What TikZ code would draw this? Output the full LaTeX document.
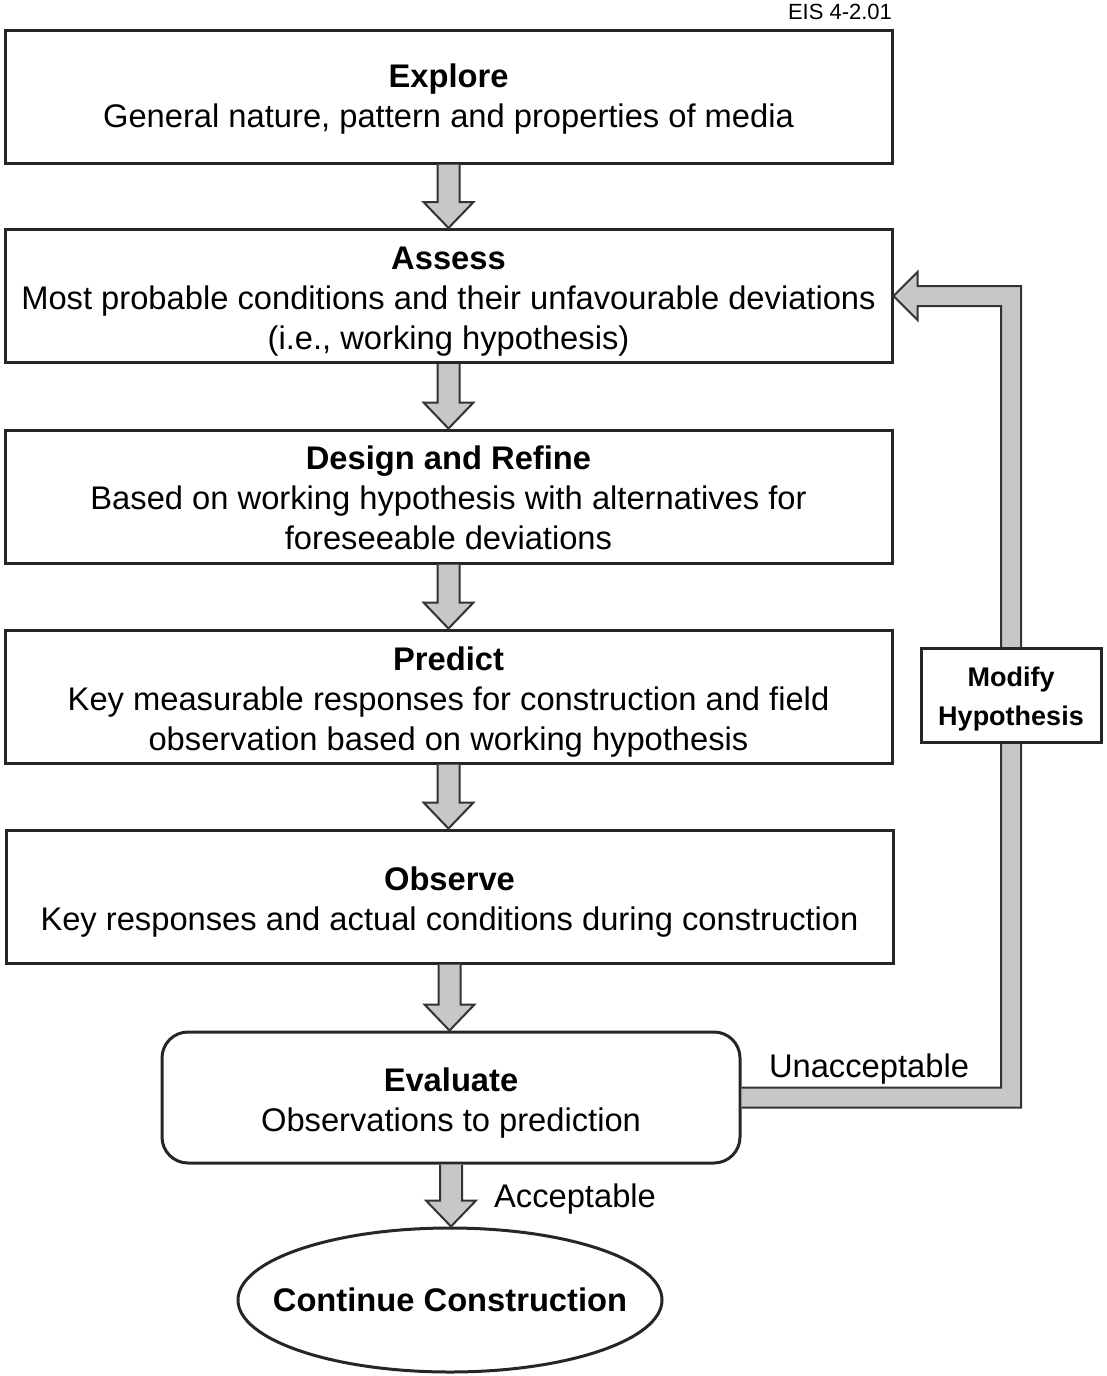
\documentclass[tikz,border=0pt]{standalone}
\usepackage{fontspec}
\setmainfont{Liberation Sans}
\usetikzlibrary{shapes.geometric,calc}
\tikzset{
  stepbox/.style={draw=black!85, line width=3pt, minimum width=887pt, minimum height=133pt, inner sep=0pt, align=center, font=\fontsize{32.7}{40}\selectfont},
  evalbox/.style={stepbox, rounded corners=26pt, minimum width=578pt, minimum height=131pt},
  endbox/.style={draw=black!85, line width=3pt, ellipse, minimum width=424pt, minimum height=144pt, inner sep=0pt, font=\fontsize{32.7}{40}\selectfont\bfseries},
  modbox/.style={draw=black!85, fill=white, line width=3pt, minimum width=180pt, minimum height=94pt, inner sep=0pt, align=center, font=\fontsize{27}{39}\selectfont\bfseries},
  blockarrow/.style={draw=black!80, fill=black!22, line width=2pt, line join=miter},
  lbl/.style={font=\fontsize{32.7}{40}\selectfont, inner sep=0pt},
}
\newcommand{\tstrut}[1][34pt]{\rule{0pt}{#1}}
\newcommand{\mstrut}{\rule{0pt}{28pt}}
\newcommand{\blockdown}[2]{%
  \filldraw[blockarrow] let \p1=(#1.south), \p2=(#2.north) in
    (\x1-11pt,\y1) -- (\x1-11pt,\y2+26pt) -- (\x1-25pt,\y2+26pt) -- (\x1,\y2)
    -- (\x1+25pt,\y2+26pt) -- (\x1+11pt,\y2+26pt) -- (\x1+11pt,\y1);}
\begin{document}
\begin{tikzpicture}[x=1pt,y=-1pt]
\useasboundingbox (0,0) rectangle (1106,1376);
\node[font=\fontsize{22}{26}\selectfont, inner sep=0pt] (code) at (840,12) {EIS 4-2.01};
\node[stepbox] (explore) at (448.5,96.5) {\tstrut[28pt]\textbf{Explore}\\General nature, pattern and properties of media};
\node[stepbox] (assess) at (448.5,296) {\tstrut\textbf{Assess}\\Most probable conditions and their unfavourable deviations\\(i.e., working hypothesis)};
\node[stepbox] (design) at (448.5,496.5) {\tstrut[26pt]\textbf{Design and Refine}\\Based on working hypothesis with alternatives for\\foreseeable deviations};
\node[stepbox] (predict) at (448.5,696.5) {\tstrut\textbf{Predict}\\Key measurable responses for construction and field\\observation based on working hypothesis};
\node[stepbox] (observe) at (449.5,896.5) {\tstrut\textbf{Observe}\\Key responses and actual conditions during construction};
\node[evalbox] (evaluate) at (451,1097.5) {\tstrut\textbf{Evaluate}\\Observations to prediction};
\node[endbox] (cont) at (450,1300) {\makebox[0pt]{Continue Construction}};
\coordinate (loop) at (1011,695);
\blockdown{explore}{assess}
\blockdown{assess}{design}
\blockdown{design}{predict}
\blockdown{predict}{observe}
\blockdown{observe}{evaluate}
\blockdown{evaluate}{cont}
\filldraw[blockarrow] let \p1=(evaluate.east), \p2=(assess.east), \p3=(loop) in
  (\x1,\y1+10pt) -- (\x3-10pt,\y1+10pt) -- (\x3-10pt,\y2-10pt) -- (\x2+24pt,\y2-10pt)
  -- (\x2+24pt,\y2-24pt) -- (\x2,\y2) -- (\x2+24pt,\y2+24pt) -- (\x2+24pt,\y2+10pt)
  -- (\x3+10pt,\y2+10pt) -- (\x3+10pt,\y1-10pt) -- (\x1,\y1-10pt);
\node[modbox] (modify) at (loop) {\mstrut Modify\\Hypothesis};
\node[lbl] (unacc) at (869,1069) {Unacceptable};
\node[lbl] (acc) at (575,1199) {Acceptable};
\end{tikzpicture}
\end{document}
